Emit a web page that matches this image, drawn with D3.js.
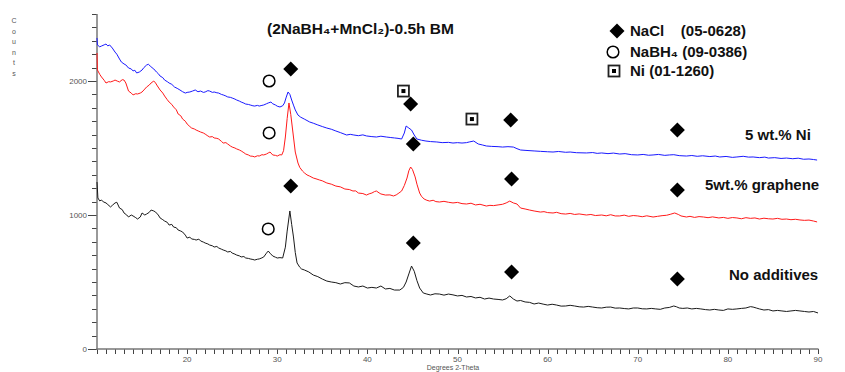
<!DOCTYPE html>
<html><head><meta charset="utf-8">
<script src="https://cdn.jsdelivr.net/npm/d3@7"></script>
<style>
html,body{margin:0;padding:0;background:#fff;}
svg{display:block;font-family:"Liberation Sans",Arial,sans-serif;}
</style></head>
<body><svg id="c" width="845" height="372"></svg>
<script>
// ---- data (2-theta, counts) ----
const noAdditives = [[10.0,1246],[10.1,1127],[10.3,1105],[10.5,1112],[10.7,1098],[11,1090],[11.2,1078],[11.5,1060],[11.7,1072],[12,1090],[12.2,1095],[12.5,1052],[12.8,1040],[13,1015],[13.3,1000],[13.5,985],[13.8,1000],[14,993],[14.3,980],[14.5,970],[14.8,985],[15,1015],[15.3,1000],[15.5,1007],[15.8,1020],[16,1037],[16.3,1030],[16.5,1022],[16.8,1000],[17,978],[17.3,965],[17.5,955],[17.8,945],[18,925],[18.3,930],[18.5,910],[18.8,905],[19,888],[19.3,880],[19.5,873],[19.8,850],[20,828],[20.3,835],[20.5,821],[20.8,818],[21,813],[21.3,820],[21.5,806],[21.8,798],[22,791],[22.3,784],[22.5,776],[22.8,770],[23,761],[23.3,765],[23.5,754],[23.8,745],[24,739],[24.3,732],[24.5,724],[24.8,728],[25,716],[25.3,708],[25.5,701],[25.8,695],[26,687],[26.3,690],[26.5,679],[26.8,676],[27,672],[27.3,668],[27.5,664],[27.8,670],[28,672],[28.3,680],[28.5,687],[28.8,715],[29,731],[29.2,715],[29.5,694],[29.8,685],[30,679],[30.3,682],[30.6,679],[30.9,760],[31.1,880],[31.4,1030],[31.6,930],[31.8,836],[32.0,720],[32.2,642],[32.5,610],[32.7,597],[33,590],[33.5,575],[34,552],[34.5,540],[35,522],[35.5,507],[36,500],[36.5,495],[37,485],[37.5,495],[38,493],[38.5,470],[39,463],[39.5,470],[40,455],[40.5,460],[41,455],[41.5,470],[42,448],[42.5,452],[43,440],[43.6,440],[44,460],[44.3,500],[44.6,560],[44.9,619],[45.2,580],[45.5,510],[45.8,455],[46.2,418],[46.6,410],[47,403],[47.5,412],[48,410],[48.5,402],[49,410],[49.5,404],[50,396],[50.5,400],[51,388],[51.5,392],[52,381],[52.5,386],[53,373],[53.5,380],[54,373],[54.5,370],[55,366],[55.4,375],[55.8,396],[56.2,373],[56.6,358],[57,362],[57.5,351],[58,348],[58.5,336],[59,343],[59.5,335],[60,328],[60.5,334],[61,328],[61.5,320],[62,321],[62.5,326],[63,321],[63.5,315],[64,313],[64.5,318],[65,313],[65.5,308],[66,306],[66.5,312],[67,313],[67.5,305],[68,306],[68.5,302],[69,299],[69.5,306],[70,306],[70.5,300],[71,299],[71.5,303],[72,299],[72.5,296],[73,306],[73.5,310],[74,321],[74.3,315],[74.6,306],[75,303],[75.5,306],[76,299],[76.5,303],[77,299],[77.5,294],[78,291],[78.5,296],[79,291],[79.5,288],[80,299],[80.5,296],[81,299],[81.5,303],[82,306],[82.5,316],[82.8,313],[83.2,305],[83.5,299],[84,291],[84.5,294],[85,284],[85.5,288],[86,284],[86.5,280],[87,284],[87.5,288],[88,284],[88.5,280],[89,276],[89.5,280],[90,269]];

const graphene5 = [[10.0,2209],[10.05,2082],[10.3,2050],[10.5,2030],[10.8,2005],[11,1985],[11.3,1995],[11.5,1993],[11.8,2000],[12,2007],[12.3,1998],[12.5,1993],[12.8,2010],[13,2007],[13.2,1985],[13.5,1925],[13.8,1910],[14,1896],[14.3,1905],[14.5,1903],[14.8,1910],[15,1918],[15.3,1940],[15.5,1955],[15.8,1970],[16,1985],[16.3,2000],[16.5,1985],[16.7,1963],[17,1933],[17.3,1910],[17.5,1888],[17.8,1860],[18,1843],[18.3,1825],[18.5,1806],[18.8,1785],[19,1754],[19.3,1740],[19.5,1716],[19.8,1700],[20,1679],[20.3,1660],[20.5,1649],[20.8,1642],[21,1634],[21.3,1625],[21.5,1619],[21.8,1612],[22,1604],[22.3,1590],[22.5,1582],[22.8,1585],[23,1575],[23.3,1572],[23.5,1567],[23.8,1550],[24,1537],[24.3,1540],[24.5,1530],[24.8,1515],[25,1507],[25.3,1500],[25.5,1493],[25.8,1485],[26,1478],[26.3,1465],[26.5,1455],[26.8,1448],[27,1440],[27.3,1438],[27.5,1433],[27.8,1442],[28,1440],[28.3,1450],[28.5,1448],[28.8,1455],[29,1463],[29.2,1470],[29.5,1448],[29.8,1445],[30,1440],[30.3,1450],[30.5,1448],[30.7,1480],[30.9,1582],[31.1,1720],[31.3,1836],[31.5,1750],[31.8,1582],[32.0,1470],[32.3,1388],[32.5,1355],[32.8,1328],[33,1315],[33.3,1299],[33.6,1290],[34,1276],[34.3,1270],[34.7,1261],[35,1255],[35.5,1239],[36,1230],[36.5,1216],[37,1210],[37.5,1194],[38,1190],[38.4,1179],[38.7,1180],[39,1164],[39.5,1160],[39.9,1149],[40.2,1158],[40.5,1164],[40.8,1175],[41,1179],[41.3,1165],[41.5,1157],[42,1149],[42.5,1150],[42.9,1142],[43.2,1150],[43.5,1164],[43.8,1179],[44.1,1220],[44.4,1276],[44.6,1330],[44.8,1358],[45,1340],[45.3,1284],[45.5,1230],[45.8,1164],[46,1140],[46.3,1119],[46.6,1110],[46.9,1104],[47.3,1110],[47.6,1100],[48,1097],[48.5,1102],[49,1095],[49.5,1090],[50,1094],[50.5,1085],[51,1082],[51.5,1088],[52,1075],[52.5,1080],[53.2,1067],[53.6,1072],[54,1070],[54.5,1075],[55,1080],[55.4,1090],[55.8,1104],[56.2,1090],[56.6,1082],[57,1052],[57.5,1045],[58,1037],[58.5,1030],[59.2,1022],[59.6,1025],[60,1018],[60.6,1015],[61,1020],[61.5,1010],[62,1007],[62.5,1012],[63,1004],[63.5,1008],[64.3,1000],[64.8,1004],[65.3,996],[66,1000],[66.5,994],[67,1002],[67.5,993],[68,993],[68.5,999],[69,990],[69.5,996],[70,993],[70.5,987],[71,994],[71.7,985],[72.2,990],[72.7,995],[73.2,998],[73.6,1005],[74.1,1015],[74.5,1004],[74.8,993],[75.4,985],[75.8,990],[76.3,982],[76.8,988],[77.3,985],[77.8,980],[78.3,986],[79,978],[79.5,982],[80,975],[80.5,981],[81,978],[81.5,972],[82,980],[82.5,975],[83,978],[83.5,970],[84,976],[84.5,972],[85,970],[85.5,975],[86,968],[86.5,970],[87,965],[87.5,968],[88,963],[88.5,960],[89,962],[89.5,955],[89.9,948]];

const ni5 = [[10.0,2321],[10.05,2269],[10.3,2255],[10.5,2261],[10.8,2270],[11,2276],[11.2,2262],[11.4,2269],[11.7,2246],[12,2216],[12.2,2200],[12.5,2164],[12.7,2142],[13,2127],[13.2,2120],[13.5,2097],[13.8,2090],[14,2075],[14.2,2080],[14.4,2060],[14.7,2067],[15,2082],[15.2,2100],[15.5,2119],[15.7,2125],[15.9,2112],[16.1,2100],[16.3,2090],[16.6,2067],[16.8,2055],[17,2037],[17.3,2025],[17.5,2007],[17.8,1995],[18,1985],[18.3,1975],[18.6,1955],[18.9,1945],[19.2,1933],[19.5,1920],[19.8,1910],[20,1915],[20.3,1918],[20.6,1925],[20.9,1933],[21.2,1920],[21.5,1925],[21.8,1915],[22,1918],[22.3,1928],[22.5,1925],[22.8,1915],[23,1918],[23.3,1912],[23.5,1910],[23.8,1900],[24,1896],[24.3,1888],[24.5,1881],[24.8,1878],[25,1873],[25.3,1865],[25.5,1858],[25.8,1850],[26,1843],[26.3,1835],[26.5,1828],[26.8,1825],[27,1821],[27.3,1815],[27.5,1813],[27.8,1818],[28,1813],[28.3,1818],[28.5,1821],[28.8,1830],[29,1836],[29.3,1843],[29.5,1830],[29.8,1821],[30,1812],[30.3,1806],[30.6,1815],[30.8,1836],[31,1880],[31.2,1918],[31.4,1900],[31.6,1858],[31.8,1820],[32,1784],[32.3,1746],[32.6,1730],[33,1716],[33.3,1705],[33.6,1694],[34,1685],[34.5,1672],[35,1660],[35.5,1649],[36,1640],[36.5,1627],[37,1615],[37.7,1597],[38.1,1602],[38.5,1597],[39,1592],[39.5,1598],[39.9,1590],[40.5,1585],[41,1582],[41.5,1588],[42.1,1582],[42.6,1578],[43,1575],[43.4,1572],[43.8,1567],[44.1,1612],[44.3,1664],[44.6,1649],[44.9,1634],[45.2,1597],[45.5,1567],[46,1558],[46.5,1552],[47,1548],[47.7,1545],[48.3,1540],[49,1542],[49.5,1537],[50,1540],[50.5,1537],[51,1540],[51.3,1545],[51.8,1552],[52.3,1530],[52.8,1522],[53.2,1515],[53.8,1512],[54.5,1510],[55,1507],[55.6,1510],[56.2,1507],[56.6,1495],[57,1485],[57.6,1482],[58.5,1478],[59.2,1475],[60,1472],[60.6,1470],[61.2,1474],[62,1468],[62.5,1470],[63.2,1465],[64.3,1463],[65,1466],[65.5,1460],[66,1463],[66.7,1458],[67.3,1462],[68,1455],[68.6,1458],[69.3,1450],[70,1448],[70.6,1452],[71.2,1446],[71.7,1448],[72.3,1452],[73,1445],[73.5,1448],[74,1450],[74.6,1443],[75.4,1440],[76,1444],[76.6,1438],[77.2,1442],[78,1436],[78.6,1440],[79.1,1433],[79.8,1437],[80.5,1430],[81,1433],[81.7,1438],[82.3,1432],[82.8,1433],[83.5,1428],[84.1,1432],[84.5,1425],[85.2,1428],[85.9,1422],[86.5,1425],[87.2,1420],[87.8,1424],[88.4,1416],[89,1418],[89.5,1414],[89.9,1410]];

// phase markers (2-theta, counts)
const naclMarks = [[31.5,2090],[44.8,1828],[55.9,1709],[74.4,1634],[45.1,1530],[56.0,1269],[74.4,1187],[31.5,1216],[45.1,791],[56.0,575],[74.4,522]];
const nabh4Marks = [[29.1,2000],[29.1,1612],[29.0,896]];
const niMarks = [[44.0,1925],[51.6,1716]];

const xTicksMajor = [20,30,40,50,60,70,80,90];
const xTicksMinor = d3.range(10,91,1);
const yTicksMajor = [0,1000,2000];
const yTicksMinor = d3.range(0,2501,100);
const seriesLabels = ["5 wt.% Ni","5wt.% graphene","No additives"];
const legendLabels = ["NaCl    (05-0628)","NaBH\u2084 (09-0386)","Ni (01-1260)"];
const titleText = "(2NaBH\u2084+MnCl\u2082)-0.5h BM";

// ---- drawing ----
const svg = d3.select("#c");
const x = d3.scaleLinear().domain([10,90]).range([97,818]);
const y = d3.scaleLinear().domain([0,2500]).range([349,14]);
const axisCol = "#444", txtCol = "#555";
const fmt = d3.format("d");

const axes = svg.append("g").attr("stroke",axisCol).attr("stroke-width",1);
axes.selectAll("line.ym").data(yTicksMinor).join("line").attr("class","ym")
  .attr("x1",92).attr("x2",97).attr("y1",d=>Math.round(y(d))+0.5).attr("y2",d=>Math.round(y(d))+0.5);
axes.selectAll("line.yM").data(yTicksMajor).join("line").attr("class","yM")
  .attr("x1",88).attr("x2",97).attr("y1",d=>Math.round(y(d))+0.5).attr("y2",d=>Math.round(y(d))+0.5);
axes.selectAll("line.xm").data(xTicksMinor).join("line").attr("class","xm")
  .attr("x1",d=>Math.round(x(d))+0.5).attr("x2",d=>Math.round(x(d))+0.5).attr("y1",349).attr("y2",354);
axes.append("line").attr("x1",97).attr("x2",97).attr("y1",y(2500)).attr("y2",349.75).attr("stroke","#777").attr("stroke-width",1.5);
axes.append("line").attr("x1",96.25).attr("x2",x(90)+0.5).attr("y1",349).attr("y2",349).attr("stroke","#777").attr("stroke-width",1.5);

svg.append("g").selectAll("text").data(yTicksMajor).join("text")
  .attr("x",87).attr("y",d=>y(d)+3).attr("text-anchor","end").attr("fill",txtCol)
  .style("font-size","8px").text(fmt);
svg.append("g").selectAll("text").data(xTicksMajor).join("text")
  .attr("x",d=>x(d)).attr("y",362).attr("text-anchor","middle").attr("fill",txtCol)
  .style("font-size","8px").text(fmt);

// axis titles
const cnt = "Counts".split("");
svg.append("g").selectAll("text").data(cnt).join("text")
  .attr("x",14).attr("y",(d,i)=>23+i*10.6).attr("text-anchor","middle")
  .attr("fill",txtCol).style("font-size","7px").text(d=>d);
svg.append("text").attr("x",453).attr("y",370).attr("text-anchor","middle")
  .attr("fill",txtCol).style("font-size","7px").text("Degrees 2-Theta");

// lines
const line = d3.line().x(d=>x(d[0])).y(d=>y(d[1]));
[[noAdditives,"#1a1a1a"],[graphene5,"#ff1a1a"],[ni5,"#1a1aff"]].forEach(([d,c])=>{
  svg.append("path").datum(d).attr("d",line).attr("fill","none").attr("stroke",c).attr("stroke-width",1);
});

// markers
function diamond(g,cx,cy){ g.append("path").attr("d",`M${cx},${cy-7.5}L${cx+7.5},${cy}L${cx},${cy+7.5}L${cx-7.5},${cy}Z`).attr("fill","#000"); }
function circle(g,cx,cy){ g.append("circle").attr("cx",cx).attr("cy",cy).attr("r",5.8).attr("fill","none").attr("stroke","#000").attr("stroke-width",1.5); }
function niSq(g,cx,cy){
  g.append("rect").attr("x",cx-5.5).attr("y",cy-5.5).attr("width",11).attr("height",11).attr("fill","none").attr("stroke","#222").attr("stroke-width",1.8);
  g.append("rect").attr("x",cx-2).attr("y",cy-2).attr("width",4).attr("height",4).attr("fill","#000");
}
const gm = svg.append("g");
naclMarks.forEach(d=>diamond(gm,x(d[0]),y(d[1])));
nabh4Marks.forEach(d=>circle(gm,x(d[0]),y(d[1])));
niMarks.forEach(d=>niSq(gm,x(d[0]),y(d[1])));

// title
svg.append("text").attr("x",267).attr("y",34).style("font-size","15.5px").style("font-weight","bold").attr("fill","#111").text(titleText);

// legend
const lg = svg.append("g");
diamond(lg,617,31); circle(lg,613,52); niSq(lg,614,71);
const lgY=[36,57,76];
legendLabels.forEach((t,i)=>{
  lg.append("text").attr("x",630).attr("y",lgY[i]).style("font-size","15px").style("font-weight","bold").attr("fill","#111").attr("xml:space","preserve").style("white-space","pre").text(t);
});

// series labels
const slPos=[[745,140],[705,190],[729,280]];
seriesLabels.forEach((t,i)=>{
  svg.append("text").attr("x",slPos[i][0]).attr("y",slPos[i][1]).style("font-size","15px").style("font-weight","bold").attr("fill","#111").text(t);
});
</script></body></html>
